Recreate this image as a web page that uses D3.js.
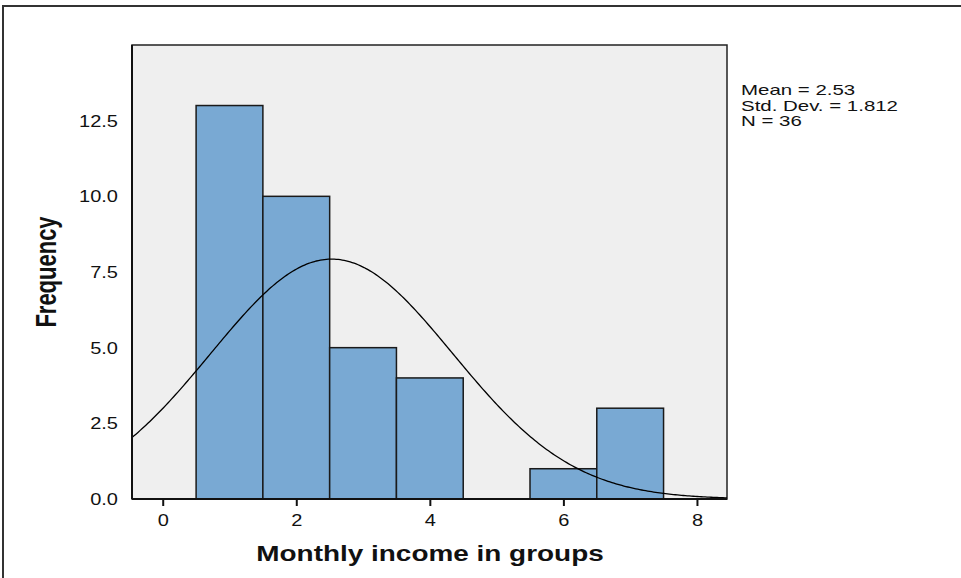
<!DOCTYPE html>
<html><head><meta charset="utf-8">
<script src="https://cdn.jsdelivr.net/npm/d3@7"></script>
<style>body{margin:0;background:#fff;}svg{display:block;font-family:"Liberation Sans",Arial,sans-serif;}</style>
</head><body>
<svg id="c" width="961" height="578"></svg>
<script>
const binCenters = [1, 2, 3, 4, 5, 6, 7];
const frequencies = [13, 10, 5, 4, 0, 1, 3];
const xTicks = [0, 2, 4, 6, 8];
const yTicks = [0, 2.5, 5, 7.5, 10, 12.5];
const statsLines = ["Mean = 2.53", "Std. Dev. = 1.812", "N = 36"];
const meanVal = 2.53, sdVal = 1.812, nVal = 36, binWidth = 1;
const xLabel = "Monthly income in groups";
const yLabel = "Frequency";

const svg = d3.select("#c");
const L = 132, R = 727, T = 45, B = 499;
const x = d3.scaleLinear().domain([-0.46, 8.45]).range([L, R]);
const y = d3.scaleLinear().domain([0, 15]).range([B, T]);
const SX = 1.25;

// outer frame
svg.append("path").attr("d", "M3,578 V6 H961").attr("fill", "none").attr("stroke", "#333").attr("stroke-width", 2);

// plot background
svg.append("rect").attr("x", L).attr("y", T).attr("width", R - L).attr("height", B - T)
  .attr("fill", "#efefef").attr("stroke", "#222").attr("stroke-width", 1.5);

// bars
svg.append("g").selectAll("rect").data(binCenters.map((c, i) => ({c, f: frequencies[i]})).filter(d => d.f > 0))
  .join("rect")
  .attr("x", d => x(d.c - binWidth / 2)).attr("width", d => x(d.c + binWidth / 2) - x(d.c - binWidth / 2))
  .attr("y", d => y(d.f)).attr("height", d => y(0) - y(d.f))
  .attr("fill", "#79a9d3").attr("stroke", "#1a1a1a").attr("stroke-width", 1.5);

// normal curve
const dom = x.domain();
const pts = d3.range(0, 301).map(i => dom[0] + (dom[1] - dom[0]) * i / 300);
const pdf = v => nVal * binWidth / (sdVal * Math.sqrt(2 * Math.PI)) * Math.exp(-0.5 * ((v - meanVal) / sdVal) ** 2);
svg.append("path").datum(pts).attr("fill", "none").attr("stroke", "#000").attr("stroke-width", 1.3)
  .attr("d", d3.line().x(d => x(d)).y(d => y(pdf(d))));

// axes lines
svg.append("line").attr("x1", L).attr("x2", L).attr("y1", T).attr("y2", B).attr("stroke", "#111").attr("stroke-width", 2);
svg.append("line").attr("x1", L).attr("x2", R).attr("y1", B).attr("y2", B).attr("stroke", "#111").attr("stroke-width", 2);

// x ticks
const xg = svg.append("g").attr("transform", `translate(0,${B})`)
  .call(d3.axisBottom(x).tickValues(xTicks).tickSize(7).tickFormat(d3.format("d")));
xg.select(".domain").remove();
xg.selectAll(".tick line").attr("stroke", "#111").attr("stroke-width", 2);
xg.selectAll(".tick text").attr("font-size", 16).attr("font-family", "Liberation Sans, Arial, sans-serif").attr("fill", "#111")
  .attr("y", 0).attr("dy", 0).attr("transform", `translate(0,27) scale(${SX},1)`);

// y ticks
const yg = svg.append("g").attr("transform", `translate(${L},0)`)
  .call(d3.axisLeft(y).tickValues(yTicks).tickSize(0).tickFormat(d3.format(".1f")));
yg.select(".domain").remove();
yg.selectAll(".tick text").attr("font-size", 16).attr("font-family", "Liberation Sans, Arial, sans-serif").attr("fill", "#111")
  .attr("x", 0).attr("dy", "0.35em").attr("transform", `translate(-14,0) scale(${SX},1)`);

// axis titles
svg.append("text").attr("transform", `translate(430,561) scale(1.27,1)`).attr("text-anchor", "middle")
  .attr("font-size", 22).attr("font-weight", "bold").attr("fill", "#111").text(xLabel);
svg.append("text").attr("transform", `translate(56,272) scale(1.3,1) rotate(-90)`).attr("text-anchor", "middle")
  .attr("font-size", 22).attr("font-weight", "bold").attr("fill", "#111").text(yLabel);

// stats
svg.append("g").selectAll("text").data(statsLines).join("text")
  .attr("transform", (d, i) => `translate(741,${95 + i * 15.5}) scale(1.41,1)`)
  .attr("font-size", 14.5).attr("fill", "#111").text(d => d);
</script>
</body></html>
